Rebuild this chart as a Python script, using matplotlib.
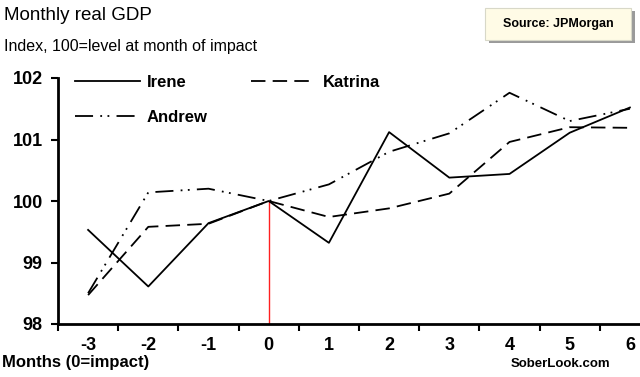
import matplotlib.pyplot as plt
from matplotlib.patches import FancyBboxPatch

months = [-3, -2, -1, 0, 1, 2, 3, 4, 5, 6]
irene = [99.53, 98.61, 99.64, 100.0, 99.32, 101.12, 100.38, 100.44, 101.11, 101.52]
katrina = [98.47, 99.58, 99.63, 100.0, 99.74, 99.88, 100.12, 100.96, 101.2, 101.19]
andrew = [98.5, 100.14, 100.2, 100.0, 100.27, 100.8, 101.1, 101.76, 101.3, 101.5]
yticks = [98, 99, 100, 101, 102]

plt.rcParams['font.family'] = ['Liberation Sans', 'DejaVu Sans']

fig = plt.figure(figsize=(6.4, 3.77), dpi=100)
ax = fig.add_axes([58/640, 53/377, 602/640, 246/377])

l_irene, = ax.plot(months, irene, color='black', lw=1.3, ls='-')
l_katrina, = ax.plot(months, katrina, color='black', lw=1.3, ls=(0, (8, 4)))
l_andrew, = ax.plot(months, andrew, color='black', lw=1.3, ls=(0, (10, 4, 1, 3, 1, 4)))
ax.plot([0, 0], [98, 100], color='#ff2020', lw=1.0, zorder=1)

ax.set_xlim(-3.5, 6.5)
ax.set_ylim(98, 102)
ax.set_yticks(yticks)
ax.set_yticklabels([str(v) for v in yticks], fontsize=13, fontweight='bold')
ax.set_xticks(months)
ax.set_xticklabels([str(m) for m in months], fontsize=13, fontweight='bold')
ax.set_xticks([m - 0.5 for m in months], minor=True)
ax.tick_params(axis='x', which='major', length=0, pad=9)
ax.tick_params(axis='x', which='minor', length=5, width=1.5, direction='out')
ax.tick_params(axis='y', length=5, width=1.5, direction='out', pad=6)
for s in ['top', 'right']:
    ax.spines[s].set_visible(False)
for s in ['left', 'bottom']:
    ax.spines[s].set_linewidth(2)

ax.legend([l_irene, l_andrew, l_katrina], ['Irene', 'Andrew', 'Katrina'],
          loc='upper left', bbox_to_anchor=(0.028, 1.014), ncol=2, frameon=False,
          borderpad=0, borderaxespad=0,
          handlelength=3.9, handletextpad=0.4, columnspacing=2.6, labelspacing=1.2,
          prop={'size': 12, 'weight': 'bold'})

fig.text(4/640, 1 - 16/377, 'Monthly real GDP', fontsize=13.5, va='center', ha='left')
fig.text(4/640, 1 - 46/377, 'Index, 100=level at month of impact', fontsize=11.5, va='center', ha='left')
fig.text(2/640, 1 - 362/377, 'Months (0=impact)', fontsize=12, fontweight='bold', va='center', ha='left')
fig.text(560/640, 1 - 364/377, 'SoberLook.com', fontsize=9.5, fontweight='bold', va='center', ha='center')

shadow = FancyBboxPatch((489/640, 1 - 43/377), 146/640, 32/377, boxstyle='square,pad=0',
                        transform=fig.transFigure, facecolor='#9a9a9a', edgecolor='none')
box = FancyBboxPatch((485/640, 1 - 40/377), 146/640, 32/377, boxstyle='square,pad=0',
                     transform=fig.transFigure, facecolor='#fffbe6', edgecolor='#d8d8c8', lw=0.8)
fig.patches.extend([shadow, box])
fig.text(558/640, 1 - 24/377, 'Source: JPMorgan', fontsize=9, fontweight='bold', va='center', ha='center')

fig.savefig('out.png', dpi=100)
